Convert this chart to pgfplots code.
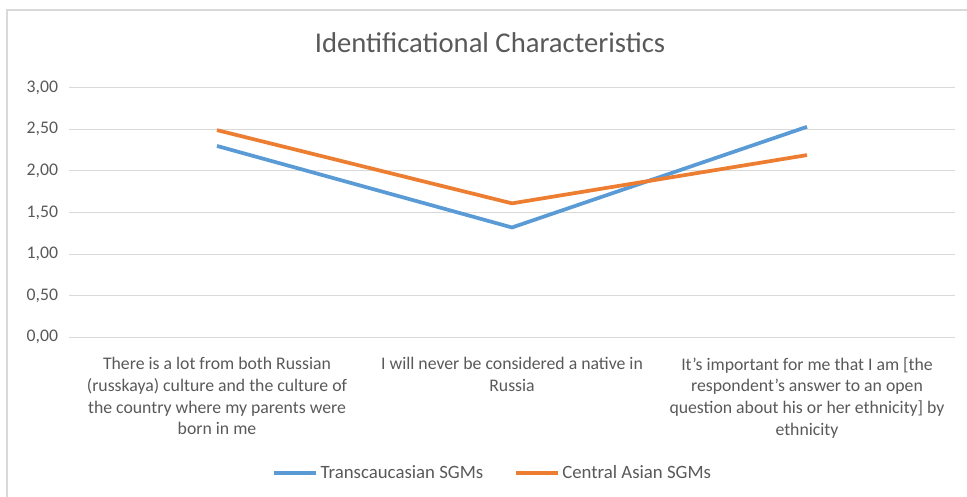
\documentclass[border=0pt]{standalone}
\usepackage{fontspec}
\setmainfont{Carlito}
\usepackage{pgfplots}
\pgfplotsset{compat=1.18}
\definecolor{txt}{HTML}{595959}
\definecolor{gridc}{HTML}{D9D9D9}
\definecolor{sblue}{HTML}{5B9BD5}
\definecolor{sorange}{HTML}{ED7D31}
\begin{document}
\begin{tikzpicture}
\begin{axis}[
  at={(0pt,0pt)}, anchor=south west, scale only axis,
  width=663.75pt, height=187.2pt,
  xmin=-0.5, xmax=2.5, ymin=0, ymax=3,
  ytick={0,0.5,1,1.5,2,2.5,3},
  xtick={0,1,2},
  xticklabels={{There is a lot from both Russian\\(russkaya) culture and the culture of\\the country where my parents were\\born in me},
               {I will never be considered a native in\\Russia},
               {It’s important for me that I am [the\\respondent’s answer to an open\\question about his or her ethnicity] by\\ethnicity}},
  axis line style={draw=none},
  ymajorgrids, grid style={gridc, line width=0.75pt},
  major tick length=0pt,
  /pgf/number format/fixed, /pgf/number format/fixed zerofill,
  /pgf/number format/precision=2, /pgf/number format/use comma,
  /pgf/number format/assume math mode=true,
  yticklabel style={xshift=-5pt},
  ticklabel style={text=txt, font=\fontsize{13.3}{16.3}\selectfont},
  xticklabel style={align=center, anchor=north, yshift=-11.5pt},
  legend style={at={(0.4785,-0.545)}, anchor=center, draw=none, fill=none,
    legend columns=2, font=\fontsize{14.1}{16}\selectfont, text=txt,
    /tikz/every even column/.append style={column sep=21pt}},
  legend image code/.code={\draw[#1] (0pt,0pt) -- (31.5pt,0pt);},
]
\addplot[sblue, line width=2.8pt, no markers] coordinates {(0,2.30) (1,1.32) (2,2.53)};
\addlegendentry{Transcaucasian SGMs}
\addplot[sorange, line width=2.8pt, no markers] coordinates {(0,2.49) (1,1.61) (2,2.19)};
\addlegendentry{Central Asian SGMs}
\end{axis}
\draw[gridc, line width=1.5pt] (-46.875pt,-130pt) -- (-46.875pt,245.475pt) -- (690pt,245.475pt);
\node[text=txt, font=\fontsize{21.5}{25}\selectfont] at (315.375pt,220.725pt) {Identificational Characteristics};
\pgfresetboundingbox
\useasboundingbox (-52.125pt,-119.025pt) rectangle (673.125pt,252.975pt);
\end{tikzpicture}
\end{document}
